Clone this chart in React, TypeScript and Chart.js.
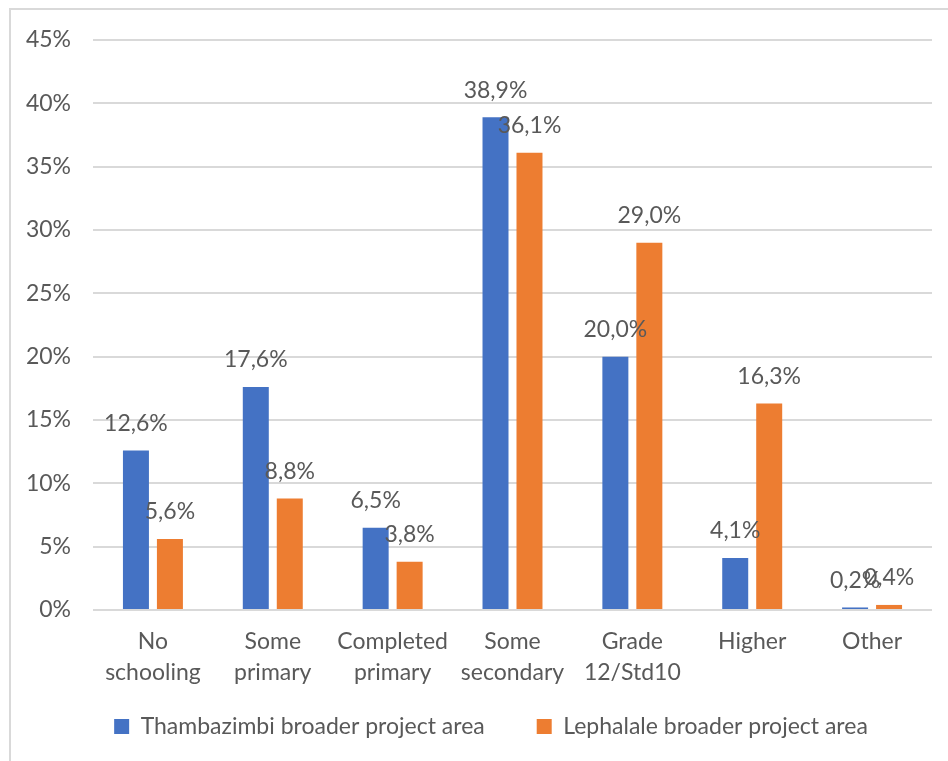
import React, { useEffect, useRef } from "react";
import { Chart, registerables } from "chart.js";

Chart.register(...registerables);

const categories: (string | string[])[] = [
  ["No", "schooling"],
  ["Some", "primary"],
  ["Completed", "primary"],
  ["Some", "secondary"],
  ["Grade", "12/Std10"],
  "Higher",
  "Other",
];
const thabazimbi = [12.6, 17.6, 6.5, 38.9, 20.0, 4.1, 0.2];
const lephalale = [5.6, 8.8, 3.8, 36.1, 29.0, 16.3, 0.4];
const seriesNames = ["Thambazimbi broader project area", "Lephalale broader project area"];

const BLUE = "#4472C4";
const ORANGE = "#ED7D31";
const TEXT = "#595959";
const GRID = "#D9D9D9";
const FONT = "Lato, 'Open Sans', sans-serif";
const SIZE = 23;

const fmt = (v: number) => v.toFixed(1).replace(".", ",") + "%";

// Value labels above each bar
const valueLabels = {
  id: "valueLabels",
  afterDatasetsDraw(chart: any) {
    const ctx = chart.ctx;
    ctx.save();
    ctx.fillStyle = TEXT;
    ctx.font = `${SIZE}px ${FONT}`;
    ctx.textAlign = "center";
    ctx.textBaseline = "middle";
    chart.data.datasets.forEach((ds: any, i: number) => {
      const meta = chart.getDatasetMeta(i);
      meta.data.forEach((el: any, j: number) => {
        ctx.fillText(fmt(ds.data[j]), el.x, el.y - 27);
      });
    });
    ctx.restore();
  },
};

// Thin frame around the chart
const frame = {
  id: "frame",
  beforeDraw(chart: any) {
    const ctx = chart.ctx;
    ctx.save();
    ctx.fillStyle = "#ffffff";
    ctx.fillRect(0, 0, chart.width, chart.height);
    ctx.strokeStyle = GRID;
    ctx.lineWidth = 2;
    ctx.beginPath();
    ctx.moveTo(10, chart.height);
    ctx.lineTo(10, 9);
    ctx.lineTo(chart.width, 9);
    ctx.stroke();
    ctx.restore();
  },
};

// Nudge the legend block to the right and give the two-line
// category labels room below the compact x axis box
const layoutTweaks = {
  id: "layoutTweaks",
  afterLayout(chart: any) {
    const l = chart.legend;
    if (l) {
      l.left += 25;
      l.right += 25;
    }
    const x = chart.scales.x;
    if (x) x.bottom = x.top + 95;
  },
};

export default function App() {
  const ref = useRef<HTMLCanvasElement>(null);

  useEffect(() => {
    if (!ref.current) return;
    const chart = new Chart(ref.current, {
      type: "bar",
      data: {
        labels: categories,
        datasets: [
          {
            label: seriesNames[0],
            data: thabazimbi,
            backgroundColor: BLUE,
            categoryPercentage: 0.567,
            barPercentage: 0.765,
          },
          {
            label: seriesNames[1],
            data: lephalale,
            backgroundColor: ORANGE,
            categoryPercentage: 0.567,
            barPercentage: 0.765,
          },
        ],
      },
      options: {
        responsive: false,
        animation: false,
        layout: { padding: { top: 40, right: 16, bottom: 13, left: 0 } },
        plugins: {
          legend: {
            position: "bottom",
            labels: {
              color: TEXT,
              font: { family: FONT, size: SIZE },
              boxWidth: 15,
              boxHeight: 15,
              padding: 52,
            },
          },
          tooltip: { enabled: false },
        },
        scales: {
          x: {
            grid: { display: false, drawTicks: false },
            border: { display: false },
            ticks: {
              color: TEXT,
              font: { family: FONT, size: SIZE, lineHeight: 1.35 },
              padding: 16,
              maxRotation: 0,
              autoSkip: false,
            },
            afterFit(scale: any) {
              scale.height = 53;
            },
          },
          y: {
            min: 0,
            max: 45,
            grid: { color: GRID, lineWidth: 2, drawTicks: false },
            border: { display: false },
            ticks: {
              stepSize: 5,
              color: TEXT,
              font: { family: FONT, size: SIZE },
              padding: 22,
              callback: (v: any) => v + "%",
            },
            afterFit(scale: any) {
              scale.width = 93;
            },
          },
        },
      },
      plugins: [frame, valueLabels, layoutTweaks],
    });
    return () => chart.destroy();
  }, []);

  return (
    <div style={{ position: "absolute", left: 0, top: 0, width: 948, height: 761 }}>
      <canvas ref={ref} width={948} height={761} />
    </div>
  );
}
